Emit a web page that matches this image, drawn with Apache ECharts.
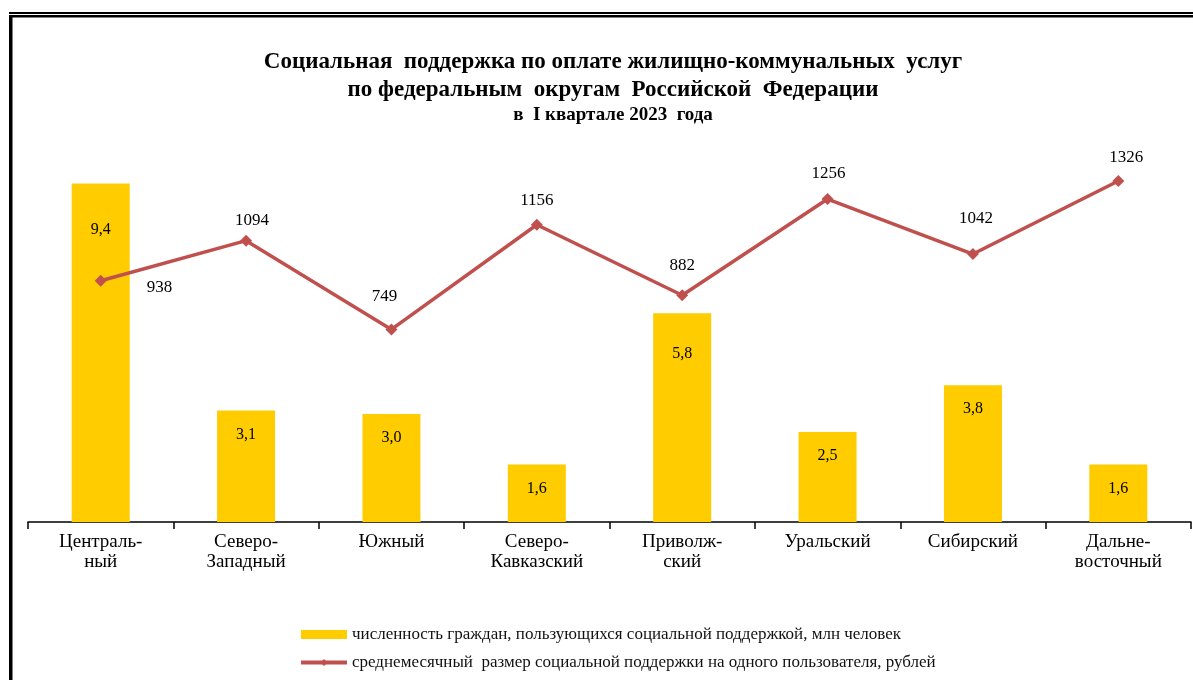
<!DOCTYPE html>
<html>
<head>
<meta charset="utf-8">
<script src="https://cdn.jsdelivr.net/npm/echarts@6/dist/echarts.min.js"></script>
<style>
  html, body { margin: 0; padding: 0; background: #fff; }
  #chart { width: 1193px; height: 680px; }
</style>
</head>
<body>
<div id="chart"></div>
<script>
// Federal districts
const districts = [
  'Централь-\nный', 'Северо-\nЗападный', 'Южный', 'Северо-\nКавказский',
  'Приволж-\nский', 'Уральский', 'Сибирский', 'Дальне-\nвосточный'
];
// Number of recipients, million people
const recipients = [9.4, 3.1, 3.0, 1.6, 5.8, 2.5, 3.8, 1.6];
// Average monthly support per recipient, roubles
const avgSupport = [938, 1094, 749, 1156, 882, 1256, 1042, 1326];

const seriesNames = [
  'численность граждан, пользующихся социальной поддержкой, млн человек',
  'среднемесячный  размер социальной поддержки на одного пользователя, рублей'
];
const titleLines = [
  'Социальная  поддержка по оплате жилищно-коммунальных  услуг',
  'по федеральным  округам  Российской  Федерации',
  'в  I квартале 2023  года'
];

// Label placement tweaks (distance from the top of the bar / marker)
const barLabelDist = [38, 16, 16, 16, 33, 16, 16, 16];
const lineLabelPos = [
  { position: 'right', distance: 0, offset: [40, 7] },
  { position: 'top', distance: 6, offset: [6, 0] },
  { position: 'top', distance: 18, offset: [-7, 0] },
  { position: 'top', distance: 10, offset: [0, 0] },
  { position: 'top', distance: 15, offset: [0, 0] },
  { position: 'top', distance: 11, offset: [1, 0] },
  { position: 'top', distance: 21, offset: [3, 0] },
  { position: 'top', distance: 9, offset: [8, 0] }
];

const SERIF = '"Liberation Serif", "Times New Roman", serif';
const fmtComma = v => v.toFixed(1).replace('.', ',');

const chart = echarts.init(document.getElementById('chart'), null, { renderer: 'canvas' });

chart.setOption({
  backgroundColor: '#ffffff',
  animation: false,
  textStyle: { fontFamily: SERIF, color: '#000' },
  title: [
    { text: titleLines[0], left: 608, top: 46, textAlign: 'center',
      textStyle: { fontFamily: SERIF, fontSize: 23, fontWeight: 'bold', color: '#000' } },
    { text: titleLines[1], left: 608, top: 74, textAlign: 'center',
      textStyle: { fontFamily: SERIF, fontSize: 23, fontWeight: 'bold', color: '#000' } },
    { text: titleLines[2], left: 608, top: 101, textAlign: 'center',
      textStyle: { fontFamily: SERIF, fontSize: 19, fontWeight: 'bold', color: '#000' } }
  ],
  graphic: [
    { type: 'rect', shape: { x: 9, y: 12, width: 1184, height: 2 }, style: { fill: '#000' } },
    { type: 'rect', shape: { x: 9, y: 15, width: 1184, height: 2.5 }, style: { fill: '#000' } },
    { type: 'rect', shape: { x: 9, y: 15, width: 3.5, height: 665 }, style: { fill: '#000' } }
  ],
  legend: {
    orient: 'vertical',
    left: 294,
    top: 621,
    itemGap: 11,
    itemWidth: 46,
    itemHeight: 9,
    textStyle: { fontFamily: SERIF, fontSize: 17, color: '#111' },
    data: [
      { name: seriesNames[0], icon: 'rect' },
      { name: seriesNames[1], lineStyle: { width: 4 } }
    ]
  },
  grid: { left: 28, right: 2, top: 162, bottom: 158, containLabel: false },
  xAxis: {
    type: 'category',
    data: districts,
    boundaryGap: true,
    axisLine: { lineStyle: { color: '#000', width: 1.5 } },
    axisTick: { show: true, length: 7, interval: 0, lineStyle: { color: '#000', width: 1.5 } },
    axisLabel: { interval: 0, fontFamily: SERIF, fontSize: 19, lineHeight: 20, color: '#000', margin: 10 }
  },
  yAxis: [
    { type: 'value', min: 0, max: 10, show: false, splitLine: { show: false } },
    { type: 'value', min: 0, max: 1400, show: false, splitLine: { show: false } }
  ],
  series: [
    {
      name: seriesNames[0],
      type: 'bar',
      yAxisIndex: 0,
      barWidth: 58,
      itemStyle: { color: '#FFCC00' },
      data: recipients.map((v, i) => ({
        value: v,
        label: { distance: barLabelDist[i] }
      })),
      label: {
        show: true,
        position: 'insideTop',
        fontFamily: SERIF,
        fontSize: 16,
        color: '#000',
        formatter: p => fmtComma(p.value)
      },
      z: 1
    },
    {
      name: seriesNames[1],
      type: 'line',
      yAxisIndex: 1,
      symbol: 'diamond',
      symbolSize: 12,
      lineStyle: { color: '#C0504D', width: 3.5 },
      itemStyle: { color: '#C0504D' },
      data: avgSupport.map((v, i) => ({
        value: v,
        label: lineLabelPos[i]
      })),
      label: {
        show: true,
        fontFamily: SERIF,
        fontSize: 17,
        color: '#000'
      },
      z: 3
    }
  ]
});
</script>
</body>
</html>
